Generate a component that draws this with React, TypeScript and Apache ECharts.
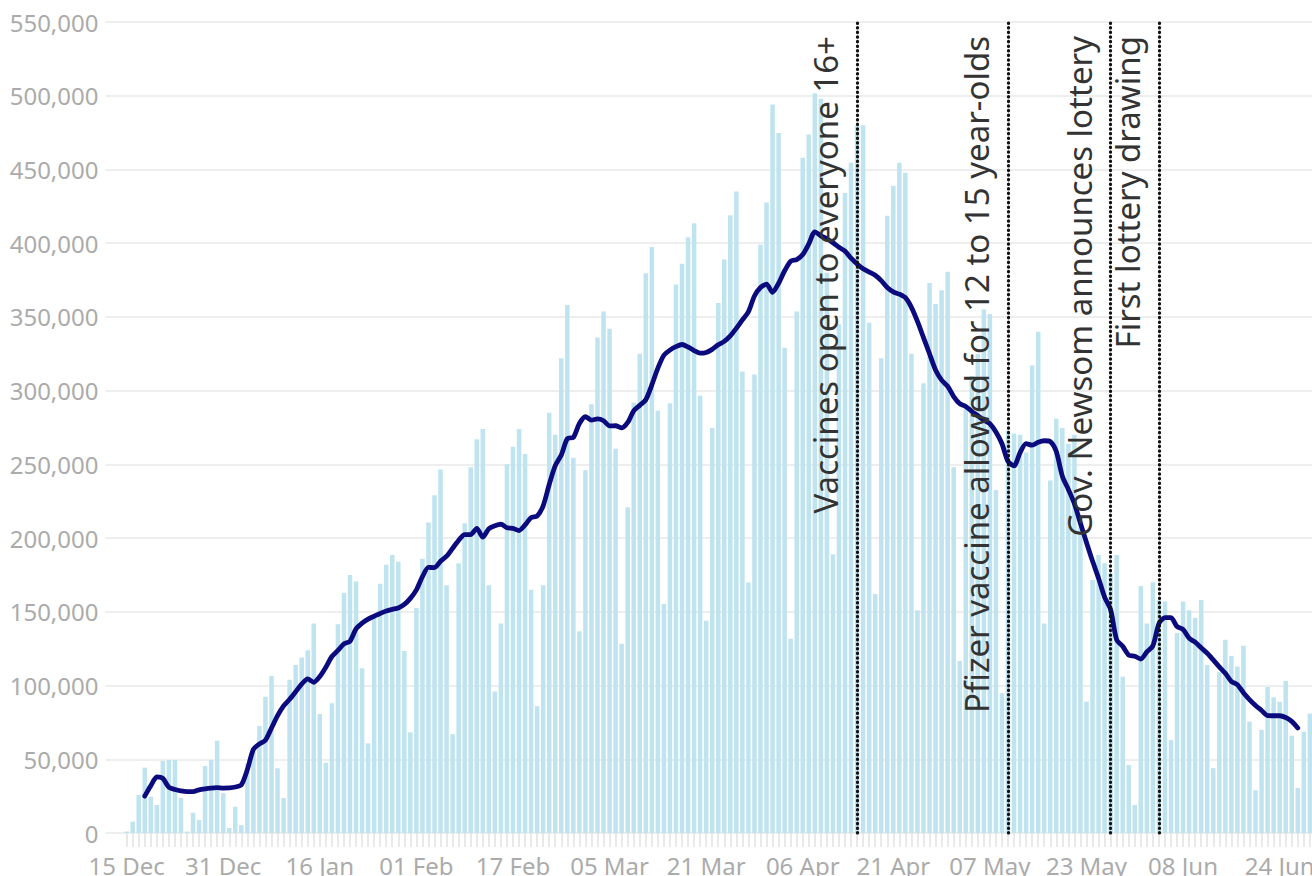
import React, { useEffect, useRef } from "react";
import * as echarts from "echarts";

// Padding days before the first data day (Dec 12-14), then data Dec 15, 2020 .. Jun 30, 2021
const PAD_DAYS = 3;
const TOTAL_DAYS = 201;

const TICK_DATES = [
  "2020-12-15", "2020-12-31", "2021-01-16", "2021-02-01", "2021-02-17",
  "2021-03-05", "2021-03-21", "2021-04-06", "2021-04-21", "2021-05-07",
  "2021-05-23", "2021-06-08", "2021-06-24",
];

const MONTHS = ["Jan", "Feb", "Mar", "Apr", "May", "Jun", "Jul", "Aug", "Sep", "Oct", "Nov", "Dec"];

// Daily doses administered, Dec 15 2020 .. Jun 30 2021
const DAILY = [
  1000, 7700, 25800, 44300, 24600, 19000,
  48800, 49500, 49500, 23700, 1000, 13800, 8800,
  45400, 49500, 62600, 27000, 3400, 17800, 5400,
  47000, 55000, 72600, 92400, 106500, 43900, 23700,
  104000, 114000, 119000, 124000, 142000, 80700, 47700,
  88000, 141500, 163000, 175000, 170500, 111700, 60800,
  146500, 169000, 182000, 188500, 184000, 123500, 68300,
  152600, 186000, 210600, 229000, 246500, 168000, 67000,
  183000, 210000, 248000, 267000, 274000, 168000, 96000,
  142000, 250000, 262000, 274000, 257000, 165000, 86000,
  168000, 285000, 270000, 322000, 358000, 254500, 136800,
  246000, 290800, 336000, 353700, 342000, 260600, 128400,
  221000, 292000, 325000, 379600, 397400, 286400, 155300,
  291500, 372000, 386000, 404000, 413500, 296500, 144000,
  274700, 359400, 389000, 419000, 435000, 313000, 169800,
  311000, 399000, 427600, 494000, 474700, 329000, 131800,
  353700, 458000, 473700, 501600, 498000, 380000, 189000,
  345000, 434000, 454500, 479800, 480000, 346000, 162000,
  322000, 418600, 439000, 454500, 447800, 325000, 151000,
  305000, 373000, 358700, 368000, 380600, 248000, 116700,
  290000, 310000, 325000, 355000, 352000, 232600, 94800,
  273000, 271000, 270000, 258000, 317000, 340000, 142000,
  239000, 281000, 274600, 264000, 270000, 213000, 89000,
  171600, 188500, 183000, 176000, 188500, 106000, 46000,
  19000, 167500, 142000, 170000, 158000, 157000, 63000,
  135600, 157000, 151000, 146000, 158000, 114000, 44000,
  109000, 131000, 120000, 113000, 127000, 75500, 29000,
  70000, 99000, 92000, 89000, 103000, 66000, 30500,
  68700, 81000, 60000,
];

// 7-day average as drawn, Dec 18 2020 .. Jun 27 2021
const AVG_OFFSET = 3;
const AVG = [
  25000, 32000, 38000, 37000, 31000, 29500, 28500,
  28000, 28000, 29300, 30000, 30500, 30800, 30500,
  30600, 31200, 32600, 43000, 56700, 60400, 63000,
  71200, 79600, 86200, 90700, 95800, 101000, 104500,
  102200, 106100, 112400, 119700, 123800, 128200, 130100,
  138400, 142400, 145100, 147000, 148900, 150600, 151700,
  152600, 155000, 159100, 164900, 173800, 180100, 180000,
  184300, 187700, 193100, 198500, 202400, 202400, 206600,
  200700, 206400, 208400, 209400, 207000, 206600, 205100,
  208900, 213900, 215000, 221900, 236300, 249100, 256300,
  267500, 268300, 277700, 282300, 280000, 280800, 279600,
  276100, 276200, 274700, 278400, 286300, 290000, 293800,
  303900, 315300, 324000, 327500, 329800, 331300, 329600,
  327200, 325400, 325900, 328000, 331100, 333400, 337100,
  342300, 348000, 353500, 364200, 369900, 372200, 366700,
  372800, 381300, 387800, 388900, 392300, 399500, 407700,
  405000, 403000, 400300, 397200, 394600, 389800, 385900,
  382600, 380400, 378200, 374600, 370000, 367000, 365400,
  363000, 356500, 347000, 336000, 325000, 314000, 307100,
  303000, 296000, 291200, 289300, 286000, 283000, 280000,
  277500, 271900, 264000, 252000, 249000, 258000, 264000,
  263000, 265000, 266000, 265400, 258700, 242000, 233000,
  223300, 210100, 197000, 184400, 172800, 160000, 151400,
  131000, 126600, 120700, 119900, 118000, 122800, 127000,
  142000, 146000, 146000, 140000, 138000, 132100, 129400,
  125600, 121900, 117400, 112700, 108300, 102800, 100600,
  95100, 90500, 86500, 83100, 79600, 79500, 79500,
  78300, 75700, 71200,
];

const EVENT_DATES = ["2021-04-15", "2021-05-10", "2021-05-27", "2021-06-04"];
const EVENT_LABELS = [
  "Vaccines open to everyone 16+",
  "Pfizer vaccine allowed for 12 to 15 year-olds",
  "Gov. Newsom announces lottery",
  "First lottery drawing",
];

const pad2 = (n: number) => (n < 10 ? "0" + n : "" + n);

const DATES: string[] = [];
for (let i = 0; i < TOTAL_DAYS; i++) {
  const d = new Date(Date.UTC(2020, 11, 12 + i));
  DATES.push(d.getUTCFullYear() + "-" + pad2(d.getUTCMonth() + 1) + "-" + pad2(d.getUTCDate()));
}

const fmtDate = (v: string) => {
  const parts = v.split("-");
  return parts[2] + " " + MONTHS[parseInt(parts[1], 10) - 1];
};

const FONT = "'Noto Sans', 'Open Sans', sans-serif";

export default function App() {
  const ref = useRef<HTMLDivElement>(null);

  useEffect(() => {
    if (!ref.current) return;
    const chart = echarts.init(ref.current, undefined, { renderer: "svg" });

    const barData: (number | null)[] = [];
    const lineData: (number | null)[] = [];
    for (let i = 0; i < TOTAL_DAYS; i++) {
      const di = i - PAD_DAYS;
      barData.push(di >= 0 && di < DAILY.length ? DAILY[di] : null);
      const ai = di - AVG_OFFSET;
      lineData.push(ai >= 0 && ai < AVG.length ? AVG[ai] : null);
    }

    chart.setOption({
      animation: false,
      backgroundColor: "#ffffff",
      grid: { left: 105.5, top: 22, width: 1213.4, height: 811, containLabel: false },
      xAxis: {
        type: "category",
        data: DATES,
        boundaryGap: true,
        offset: 3,
        axisLine: { show: false },
        axisTick: {
          show: true,
          alignWithLabel: true,
          interval: (i: number) => i >= PAD_DAYS,
          length: 14,
          lineStyle: { color: "#e2e2e2", width: 1.5 },
        },
        axisLabel: {
          interval: (_i: number, v: string) => TICK_DATES.indexOf(v) >= 0,
          formatter: fmtDate,
          color: "#ababab",
          fontSize: 24,
          fontFamily: FONT,
          margin: 17,
        },
        splitLine: { show: false },
      },
      yAxis: {
        type: "value",
        min: 0,
        max: 550000,
        interval: 50000,
        axisLine: { show: false },
        axisTick: { show: false },
        axisLabel: {
          formatter: (v: number) => v.toLocaleString("en-US"),
          color: "#ababab",
          fontSize: 24,
          fontFamily: FONT,
          margin: 7,
        },
        splitLine: { lineStyle: { color: "#e9e9e9", width: 1.5 } },
      },
      series: [
        {
          type: "bar",
          data: barData,
          barCategoryGap: "25%",
          itemStyle: { color: "#bfe4f0" },
          z: 2,
          markLine: {
            silent: true,
            symbol: ["none", "none"],
            animation: false,
            lineStyle: { type: [0.4, 4.2], color: "#111111", width: 3.2, cap: "round" },
            label: {
              show: true,
              position: "insideEndTop",
              formatter: "{b}",
              color: "#333333",
              fontSize: 33,
              fontFamily: FONT,
              distance: [14, 15],
            },
            emphasis: { disabled: true },
            data: EVENT_DATES.map((d, i) => ({ xAxis: d, name: EVENT_LABELS[i] })),
          },
        },
        {
          type: "line",
          data: lineData,
          symbol: "none",
          smooth: 0.25,
          connectNulls: false,
          lineStyle: { color: "#0b0b7e", width: 4.8, cap: "round", join: "round" },
          z: 3,
        },
      ],
    });

    return () => chart.dispose();
  }, []);

  return (
    <div
      style={{
        position: "fixed",
        left: 0,
        top: 0,
        width: 1312,
        height: 876,
        overflow: "hidden",
        background: "#ffffff",
      }}
    >
      <div ref={ref} style={{ width: 1340, height: 910 }} />
    </div>
  );
}
